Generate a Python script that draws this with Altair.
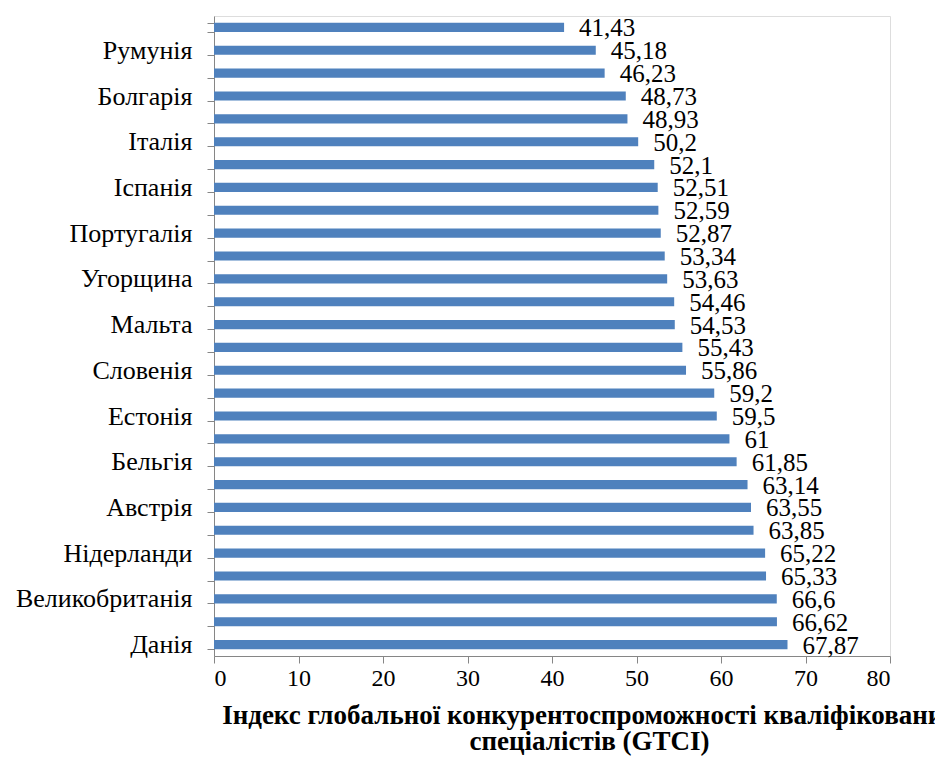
import altair as alt
import pandas as pd

# Categories top -> bottom (labels of every other bar are not shown in the original)
countries = ["Греція", "Румунія", "Хорватія", "Болгарія", "Словаччина", "Італія",
             "Польща", "Іспанія", "Латвія", "Португалія", "Литва", "Угорщина",
             "Кіпр", "Мальта", "Чехія", "Словенія", "Франція", "Естонія",
             "Ірландія", "Бельгія", "Німеччина", "Австрія", "Люксембург", "Нідерланди",
             "Фінляндія", "Великобританія", "Швеція", "Данія"]
values = [41.43, 45.18, 46.23, 48.73, 48.93, 50.2, 52.1, 52.51, 52.59, 52.87,
          53.34, 53.63, 54.46, 54.53, 55.43, 55.86, 59.2, 59.5, 61, 61.85,
          63.14, 63.55, 63.85, 65.22, 65.33, 66.6, 66.62, 67.87]
shown_labels = ["Румунія", "Болгарія", "Італія", "Іспанія", "Португалія", "Угорщина",
                "Мальта", "Словенія", "Естонія", "Бельгія", "Австрія", "Нідерланди",
                "Великобританія", "Данія"]
x_ticks = [0, 10, 20, 30, 40, 50, 60, 70, 80]
title_lines = ["Індекс глобальної конкурентоспроможності кваліфікованих",
               "спеціалістів (GTCI)"]

df = pd.DataFrame({"country": countries, "value": values})

FONT = "'Liberation Serif', 'Times New Roman', serif"
shown_js = "[" + ",".join("'" + s + "'" for s in shown_labels) + "]"

y_enc = alt.Y(
    "country:N", sort=None,
    scale=alt.Scale(paddingInner=0.6, paddingOuter=0.3),
    axis=alt.Axis(
        title=None, labelFont=FONT, labelFontSize=26, labelColor="black",
        labelPadding=15, tickBand="extent", tickSize=7, tickColor="#868686",
        domainColor="#868686", labelExpr=f"indexof({shown_js}, datum.value) >= 0 ? datum.value : ''",
    ),
)
x_enc = alt.X(
    "value:Q",
    scale=alt.Scale(domain=[0, 80], nice=False),
    axis=alt.Axis(
        values=x_ticks, grid=False, title=title_lines, titleFont=FONT,
        titleFontSize=27, titleFontWeight="bold", titleColor="black",
        titleX=375, titleY=67, titleLineHeight=26, titleAnchor="middle", titleBaseline="alphabetic",
        labelFont=FONT, labelFontSize=24, labelColor="black", labelPadding=3,
        tickSize=7, tickColor="#868686", domainColor="#868686",
    ),
)

base = alt.Chart(df)
bars = base.mark_bar(color="#4F81BD").encode(x=x_enc, y=y_enc)
labels = base.transform_calculate(
    label="replace(toString(datum.value), '.', ',')"
).mark_text(
    align="left", baseline="middle", dx=15, dy=1, font=FONT, fontSize=25, color="black"
).encode(x="value:Q", y=alt.Y("country:N", sort=None), text="label:N")

chart = alt.layer(bars, labels).properties(
    width=676, height=640,
    autosize=alt.AutoSizeParams(type="none"),
    padding={"left": 214, "top": 16, "right": 45, "bottom": 104},
).configure_view(stroke=None).configure(background="white")

chart.save("out.html", embed_options={"renderer": "svg", "actions": False})
